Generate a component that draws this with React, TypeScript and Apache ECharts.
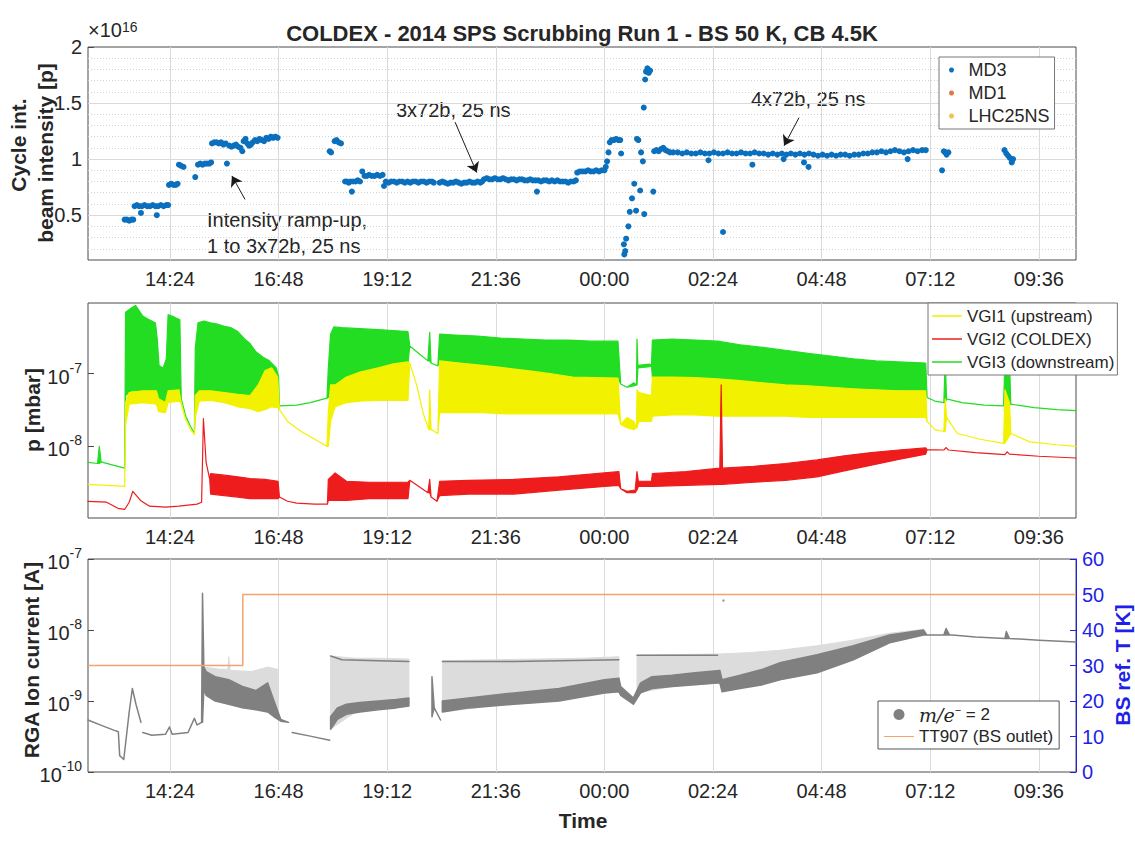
import React, { useEffect, useRef } from "react";
import * as echarts from "echarts";

type P2 = [number, number];
type P3 = [number, number, number];

// ---------- axes ----------
const X_MIN = 12.59; // hours since midnight of day 1 (12:35)
const X_MAX = 34.42; // 10:25 next day
const TIME_TICKS = [14.4, 16.8, 19.2, 21.6, 24, 26.4, 28.8, 31.2, 33.6];
const INTENSITY_TICKS = [0.5, 1, 1.5, 2];
const INTENSITY_MINOR = [0.2, 0.3, 0.4, 0.6, 0.7, 0.8, 0.9, 1.1, 1.2, 1.3, 1.4, 1.6, 1.7, 1.8, 1.9];
const INTENSITY_EXP = 16;
const P_MIN = 1.03e-9;
const P_MAX = 9.4e-7;
const P_DECADES = [-9, -8, -7];
const RGA_MIN = 1e-10;
const RGA_MAX = 1e-7;
const RGA_DECADES = [-10, -9, -8];
const TEMP_TICKS_MAX = 60;

// ---------- panel 1 : cycle integrated intensity (x 1e16 p) ----------
const MD3: P2[] = [
  [13.40, 0.46], [13.45, 0.46], [13.50, 0.45], [13.55, 0.46], [13.59, 0.46],
  [13.62, 0.58], [13.67, 0.59], [13.72, 0.58], [13.76, 0.52], [13.78, 0.58], [13.84, 0.59], [13.90, 0.58],
  [13.96, 0.58], [14.02, 0.59], [14.08, 0.58], [14.11, 0.50], [14.14, 0.58], [14.20, 0.59], [14.26, 0.58],
  [14.32, 0.59], [14.36, 0.59],
  [14.38, 0.77], [14.43, 0.78], [14.48, 0.77], [14.53, 0.77], [14.57, 0.78],
  [14.60, 0.95], [14.65, 0.94], [14.70, 0.93], [14.96, 0.84],
  [15.02, 0.95], [15.07, 0.96], [15.12, 0.95], [15.17, 0.96], [15.22, 0.96], [15.27, 0.96], [15.31, 0.97],
  [15.33, 1.14], [15.38, 1.15], [15.43, 1.15], [15.48, 1.14], [15.53, 1.15], [15.58, 1.13], [15.63, 1.14], [15.66, 0.96],
  [15.71, 1.12], [15.76, 1.11], [15.81, 1.12], [15.86, 1.13], [15.91, 1.11], [15.96, 1.10], [16.00, 1.07],
  [16.03, 1.16], [16.07, 1.18], [16.11, 1.14], [16.15, 1.12], [16.19, 1.13], [16.23, 1.15], [16.28, 1.17],
  [16.33, 1.16], [16.38, 1.18], [16.43, 1.17], [16.48, 1.16], [16.53, 1.19], [16.58, 1.18], [16.63, 1.20],
  [16.68, 1.19], [16.73, 1.20], [16.78, 1.19],
  [17.93, 1.07], [17.96, 1.06], [18.04, 1.16], [18.08, 1.17], [18.13, 1.15], [18.18, 1.14],
  [18.27, 0.80], [18.31, 0.80], [18.35, 0.79], [18.39, 0.80], [18.42, 0.71], [18.45, 0.80], [18.50, 0.80],
  [18.55, 0.81], [18.60, 0.80], [18.65, 0.89], [18.70, 0.85], [18.75, 0.85], [18.80, 0.86], [18.86, 0.85],
  [18.92, 0.85], [18.98, 0.86], [19.04, 0.85], [19.10, 0.86], [19.13, 0.76],
  [19.17, 0.80], [19.23, 0.79], [19.29, 0.80], [19.35, 0.80], [19.41, 0.79], [19.47, 0.80], [19.53, 0.80],
  [19.59, 0.79], [19.65, 0.80], [19.71, 0.79], [19.77, 0.80], [19.83, 0.80], [19.89, 0.79], [19.95, 0.80],
  [20.01, 0.80], [20.07, 0.79], [20.13, 0.80], [20.19, 0.80], [20.23, 0.79],
  [20.36, 0.79], [20.42, 0.80], [20.48, 0.79], [20.54, 0.78], [20.60, 0.79], [20.66, 0.79], [20.72, 0.80],
  [20.78, 0.79], [20.84, 0.78], [20.90, 0.79], [20.96, 0.79], [21.02, 0.80], [21.08, 0.79], [21.14, 0.79],
  [21.20, 0.80], [21.26, 0.79], [21.30, 0.80],
  [21.34, 0.82], [21.40, 0.83], [21.46, 0.82], [21.52, 0.82], [21.58, 0.83], [21.64, 0.82], [21.70, 0.82],
  [21.76, 0.83], [21.82, 0.82], [21.88, 0.81], [21.94, 0.82], [22.00, 0.82], [22.06, 0.81], [22.12, 0.82],
  [22.18, 0.82], [22.24, 0.81], [22.30, 0.81], [22.36, 0.82], [22.42, 0.81], [22.48, 0.81], [22.51, 0.71],
  [22.54, 0.81], [22.60, 0.80], [22.66, 0.81], [22.72, 0.81], [22.78, 0.80], [22.84, 0.81], [22.90, 0.80],
  [22.96, 0.81], [23.02, 0.80], [23.08, 0.80], [23.14, 0.80], [23.20, 0.79], [23.26, 0.80], [23.32, 0.80],
  [23.37, 0.81],
  [23.40, 0.88], [23.46, 0.89], [23.52, 0.89], [23.58, 0.89], [23.64, 0.90], [23.70, 0.89], [23.76, 0.89],
  [23.82, 0.90], [23.88, 0.89], [23.94, 0.90], [24.00, 0.90], [24.03, 0.93],
  [24.06, 0.98], [24.09, 1.06], [24.12, 1.15], [24.16, 1.17], [24.21, 1.17], [24.26, 1.18], [24.31, 1.17],
  [24.35, 1.17], [24.37, 1.05],
  [24.43, 0.24], [24.44, 0.15], [24.46, 0.18], [24.48, 0.29], [24.53, 0.40], [24.56, 0.53], [24.61, 0.65],
  [24.66, 0.78], [24.70, 0.54], [24.72, 1.18], [24.75, 1.17], [24.79, 0.72], [24.81, 1.06], [24.85, 0.98],
  [24.87, 1.46], [24.88, 0.51], [24.90, 1.71], [24.92, 1.78], [24.95, 1.81], [24.98, 1.77], [25.01, 1.79],
  [25.08, 0.71],
  [25.10, 1.07], [25.15, 1.08], [25.20, 1.07], [25.25, 1.09], [25.30, 1.10], [25.35, 1.08], [25.40, 1.07], [25.45, 1.06],
  [25.52, 1.06], [25.62, 1.06], [25.72, 1.05], [25.82, 1.06], [25.92, 1.05], [26.02, 1.05], [26.12, 1.06],
  [26.22, 1.05], [26.30, 0.99], [26.32, 1.05], [26.42, 1.06], [26.52, 1.05], [26.62, 1.05], [26.62, 0.35],
  [26.72, 1.06], [26.82, 1.05], [26.92, 1.05], [27.02, 1.06], [27.12, 1.05], [27.22, 1.05], [27.27, 0.95],
  [27.32, 1.06], [27.42, 1.05], [27.52, 1.05], [27.62, 1.04], [27.72, 1.05], [27.82, 1.04], [27.92, 1.05],
  [27.96, 1.00], [28.02, 1.04], [28.12, 1.05], [28.22, 1.04], [28.32, 1.05], [28.41, 0.97], [28.42, 1.04],
  [28.51, 0.93], [28.52, 1.05], [28.62, 1.04], [28.72, 1.03], [28.82, 1.04], [28.92, 1.03], [29.02, 1.04],
  [29.12, 1.03], [29.22, 1.04], [29.32, 1.04], [29.42, 1.03], [29.52, 1.04], [29.62, 1.04], [29.72, 1.05],
  [29.82, 1.05], [29.92, 1.06], [30.02, 1.06], [30.12, 1.07], [30.22, 1.06], [30.32, 1.07], [30.42, 1.08],
  [30.52, 1.07], [30.62, 1.06], [30.70, 1.00], [30.72, 1.07], [30.82, 1.08], [30.92, 1.07], [31.02, 1.08],
  [31.10, 1.08],
  [31.46, 0.90], [31.50, 1.07], [31.53, 1.06], [31.56, 1.04], [31.60, 1.06],
  [32.84, 1.08], [32.88, 1.05], [32.92, 1.03], [32.96, 1.01], [33.00, 0.97], [33.03, 1.00],
];
const MD1: P2[] = [];
const LHC25NS: P2[] = [];
// arrow annotations: [tStart, vStart, tTip, vTip]
const ARROWS: [number, number, number, number][] = [
  [16.06, 0.64, 15.77, 0.85],
  [20.70, 1.33, 21.18, 0.88],
  [28.30, 1.37, 27.97, 1.12],
];

// ---------- panel 2 : pressures [mbar]  (time, lower envelope, upper envelope) ----------
const VGI1: P3[] = [
  [12.59, 3.0e-9, 3.0e-9], [13.00, 2.9e-9, 2.9e-9], [13.40, 2.8e-9, 2.8e-9], [13.42, 2.0e-8, 4.0e-8],
  [13.50, 3.8e-8, 5.5e-8], [13.80, 4.0e-8, 5.8e-8], [14.10, 3.8e-8, 5.8e-8], [14.15, 3.0e-8, 4.5e-8],
  [14.30, 2.9e-8, 4.0e-8], [14.36, 4.0e-8, 5.8e-8], [14.60, 4.2e-8, 6.0e-8], [14.64, 4.0e-8, 4.2e-8],
  [14.75, 2.3e-8, 2.3e-8], [14.85, 1.75e-8, 1.75e-8], [14.94, 1.45e-8, 1.45e-8], [14.96, 2.5e-8, 5.0e-8],
  [15.05, 4.2e-8, 5.8e-8], [15.30, 4.3e-8, 5.8e-8], [15.60, 4.0e-8, 5.5e-8], [15.90, 3.5e-8, 5.2e-8],
  [16.17, 3.3e-8, 5.0e-8], [16.35, 3.0e-8, 7.0e-8], [16.50, 3.2e-8, 1.1e-7], [16.65, 3.5e-8, 1.2e-7],
  [16.78, 3.4e-8, 9.0e-8], [16.82, 3.2e-8, 3.2e-8], [17.00, 2.2e-8, 2.2e-8], [17.30, 1.6e-8, 1.6e-8],
  [17.60, 1.25e-8, 1.25e-8], [17.87, 1.0e-8, 1.0e-8], [17.90, 1.0e-8, 3.0e-8], [17.95, 2.2e-8, 7.0e-8],
  [18.05, 3.5e-8, 7.0e-8], [18.30, 4.0e-8, 9.0e-8], [18.60, 4.2e-8, 1.05e-7], [19.00, 4.3e-8, 1.2e-7],
  [19.30, 4.3e-8, 1.35e-7], [19.66, 4.3e-8, 1.45e-7], [19.70, 1.4e-7, 1.4e-7], [19.85, 7.0e-8, 7.0e-8],
  [20.00, 2.8e-8, 2.8e-8], [20.12, 1.7e-8, 1.7e-8], [20.14, 1.7e-8, 6.0e-8], [20.17, 1.7e-8, 1.7e-8],
  [20.32, 1.5e-8, 1.5e-8], [20.36, 2.9e-8, 1.5e-7], [20.80, 2.9e-8, 1.4e-7], [21.30, 2.9e-8, 1.3e-7],
  [21.80, 2.8e-8, 1.2e-7], [22.30, 2.8e-8, 1.1e-7], [22.80, 2.8e-8, 1.0e-7], [23.30, 2.8e-8, 9.0e-8],
  [23.80, 2.8e-8, 8.8e-8], [24.30, 2.8e-8, 8.7e-8], [24.36, 2.0e-8, 2.0e-8], [24.50, 1.8e-8, 2.5e-8],
  [24.65, 1.7e-8, 2.2e-8], [24.71, 1.8e-8, 1.8e-8], [24.72, 1.8e-8, 6.0e-8], [24.76, 2.2e-8, 5.5e-8],
  [25.04, 2.2e-8, 5.0e-8], [25.06, 2.6e-8, 9.0e-8], [25.50, 2.7e-8, 9.0e-8], [26.00, 2.7e-8, 8.8e-8],
  [26.50, 2.6e-8, 8.5e-8], [27.00, 2.6e-8, 8.0e-8], [27.50, 2.6e-8, 7.5e-8], [28.00, 2.6e-8, 7.0e-8],
  [28.50, 2.5e-8, 6.8e-8], [29.00, 2.5e-8, 6.5e-8], [29.50, 2.5e-8, 6.2e-8], [30.00, 2.5e-8, 6.0e-8],
  [30.50, 2.5e-8, 5.8e-8], [31.10, 2.5e-8, 5.8e-8], [31.13, 2.2e-8, 2.2e-8], [31.30, 1.7e-8, 1.7e-8],
  [31.50, 1.6e-8, 1.6e-8], [31.53, 1.6e-8, 4.5e-8], [31.56, 2.5e-8, 2.5e-8], [31.80, 1.5e-8, 1.5e-8],
  [32.30, 1.25e-8, 1.25e-8], [32.82, 1.1e-8, 1.1e-8], [32.85, 1.1e-8, 6.0e-8], [32.95, 1.4e-8, 4.0e-8],
  [32.98, 1.5e-8, 1.5e-8], [33.40, 1.15e-8, 1.15e-8], [34.00, 1.05e-8, 1.05e-8], [34.42, 1.0e-8, 1.0e-8],
];
const VGI2: P3[] = [
  [12.59, 1.75e-9, 1.75e-9], [13.00, 1.7e-9, 1.7e-9], [13.25, 1.4e-9, 1.4e-9], [13.40, 1.35e-9, 1.35e-9],
  [13.50, 1.7e-9, 1.7e-9], [13.58, 2.4e-9, 2.4e-9], [13.75, 1.8e-9, 1.8e-9], [13.95, 1.5e-9, 1.5e-9],
  [14.30, 1.45e-9, 1.45e-9], [14.60, 1.5e-9, 1.5e-9], [15.00, 1.6e-9, 1.6e-9], [15.10, 1.7e-9, 1.7e-9],
  [15.14, 2.4e-8, 2.4e-8], [15.20, 6.0e-9, 6.0e-9], [15.28, 3.5e-9, 3.5e-9], [15.30, 2.2e-9, 4.2e-9],
  [15.60, 2.1e-9, 4.0e-9], [15.90, 2.0e-9, 3.8e-9], [16.17, 1.9e-9, 3.6e-9], [16.50, 1.9e-9, 3.5e-9],
  [16.79, 1.9e-9, 3.3e-9], [16.82, 2.0e-9, 2.0e-9], [17.00, 1.75e-9, 1.75e-9], [17.20, 1.65e-9, 1.65e-9],
  [17.60, 1.6e-9, 1.6e-9], [17.88, 1.6e-9, 1.6e-9], [17.90, 1.8e-9, 3.5e-9], [18.05, 1.8e-9, 4.3e-9],
  [18.30, 1.8e-9, 3.3e-9], [18.80, 1.9e-9, 3.2e-9], [19.30, 1.9e-9, 3.2e-9], [19.66, 1.9e-9, 3.2e-9],
  [19.70, 3.4e-9, 3.4e-9], [20.10, 2.3e-9, 2.3e-9], [20.14, 2.3e-9, 3.5e-9], [20.17, 2.0e-9, 2.0e-9],
  [20.30, 1.75e-9, 1.75e-9], [20.36, 2.1e-9, 3.3e-9], [21.00, 2.2e-9, 3.4e-9], [22.00, 2.2e-9, 3.5e-9],
  [23.00, 2.5e-9, 3.8e-9], [24.00, 2.8e-9, 4.3e-9], [24.32, 2.9e-9, 4.5e-9], [24.36, 2.6e-9, 2.6e-9],
  [24.50, 2.3e-9, 2.4e-9], [24.68, 2.3e-9, 2.5e-9], [24.72, 2.5e-9, 4.5e-9], [24.75, 2.8e-9, 3.3e-9],
  [25.04, 2.8e-9, 3.3e-9], [25.06, 2.8e-9, 4.2e-9], [25.80, 2.9e-9, 4.5e-9], [26.55, 3.0e-9, 5.0e-9],
  [26.58, 3.0e-9, 7.0e-8], [26.61, 3.0e-9, 5.0e-9], [27.30, 3.2e-9, 5.3e-9], [28.00, 3.4e-9, 5.8e-9],
  [28.70, 3.8e-9, 6.5e-9], [29.30, 4.6e-9, 7.4e-9], [29.90, 5.5e-9, 8.2e-9], [30.50, 6.6e-9, 8.9e-9],
  [31.10, 7.8e-9, 9.5e-9], [31.13, 9.0e-9, 9.0e-9], [31.50, 8.9e-9, 8.9e-9], [31.55, 9.6e-9, 9.6e-9],
  [31.60, 8.9e-9, 8.9e-9], [32.20, 8.2e-9, 8.2e-9], [32.85, 7.7e-9, 7.7e-9], [32.90, 8.4e-9, 8.4e-9],
  [32.95, 7.8e-9, 7.8e-9], [33.60, 7.3e-9, 7.3e-9], [34.42, 6.9e-9, 6.9e-9],
];
const VGI3: P3[] = [
  [12.59, 6.0e-9, 6.0e-9], [12.80, 5.8e-9, 5.8e-9], [12.84, 5.8e-9, 1.0e-8], [12.88, 6.1e-9, 6.1e-9],
  [13.10, 5.6e-9, 5.6e-9], [13.40, 5.0e-9, 5.0e-9], [13.42, 5.0e-8, 7.0e-7], [13.55, 5.8e-8, 8.0e-7],
  [13.64, 5.8e-8, 8.7e-7], [13.80, 5.5e-8, 6.2e-7], [13.95, 5.5e-8, 5.5e-7], [14.08, 5.5e-8, 5.0e-7],
  [14.12, 5.0e-8, 3.0e-7], [14.16, 4.0e-8, 1.3e-7], [14.25, 3.5e-8, 1.2e-7], [14.32, 3.5e-8, 1.6e-7],
  [14.36, 5.0e-8, 6.5e-7], [14.50, 5.5e-8, 6.0e-7], [14.62, 5.5e-8, 5.5e-7], [14.65, 4.5e-8, 4.5e-8],
  [14.75, 2.6e-8, 2.6e-8], [14.85, 1.9e-8, 1.9e-8], [14.94, 1.5e-8, 1.5e-8], [14.96, 3.0e-8, 2.2e-7],
  [15.02, 5.5e-8, 5.0e-7], [15.15, 5.8e-8, 5.3e-7], [15.30, 5.5e-8, 5.0e-7], [15.45, 5.5e-8, 4.8e-7],
  [15.60, 5.2e-8, 4.5e-7], [15.75, 5.0e-8, 4.3e-7], [15.90, 5.0e-8, 3.8e-7], [16.05, 4.8e-8, 3.0e-7],
  [16.17, 4.5e-8, 2.6e-7], [16.30, 4.0e-8, 2.0e-7], [16.45, 6.0e-8, 1.7e-7], [16.60, 7.0e-8, 1.5e-7],
  [16.75, 6.0e-8, 1.2e-7], [16.80, 4.0e-8, 9.0e-8], [16.82, 3.6e-8, 3.6e-8], [17.20, 3.7e-8, 3.7e-8],
  [17.50, 4.0e-8, 4.0e-8], [17.87, 4.6e-8, 4.6e-8], [17.90, 4.7e-8, 1.2e-7], [17.95, 6.0e-8, 3.5e-7],
  [18.02, 7.0e-8, 4.4e-7], [18.20, 8.0e-8, 4.3e-7], [18.50, 9.0e-8, 4.2e-7], [18.80, 1.1e-7, 4.1e-7],
  [19.10, 1.2e-7, 4.0e-7], [19.40, 1.3e-7, 3.9e-7], [19.66, 1.4e-7, 3.8e-7], [19.70, 2.4e-7, 2.4e-7],
  [19.90, 1.9e-7, 1.9e-7], [20.10, 1.5e-7, 1.5e-7], [20.14, 1.5e-7, 3.7e-7], [20.17, 1.4e-7, 1.4e-7],
  [20.32, 1.28e-7, 1.28e-7], [20.36, 1.5e-7, 3.5e-7], [20.70, 1.45e-7, 3.4e-7], [21.20, 1.35e-7, 3.3e-7],
  [21.70, 1.25e-7, 3.1e-7], [22.20, 1.1e-7, 3.0e-7], [22.70, 1.0e-7, 2.9e-7], [23.20, 9.0e-8, 2.9e-7],
  [23.70, 8.8e-8, 2.8e-7], [24.30, 8.7e-8, 2.8e-7], [24.36, 7.2e-8, 7.2e-8], [24.50, 6.5e-8, 6.5e-8],
  [24.65, 6.8e-8, 7.5e-8], [24.71, 7.0e-8, 7.0e-8], [24.72, 7.0e-8, 3.0e-7], [24.74, 1.2e-7, 1.3e-7],
  [25.00, 1.25e-7, 1.35e-7], [25.04, 1.3e-7, 1.3e-7], [25.06, 9.0e-8, 2.9e-7], [25.50, 9.0e-8, 3.0e-7],
  [26.00, 8.8e-8, 2.9e-7], [26.50, 8.5e-8, 2.8e-7], [27.00, 8.0e-8, 2.5e-7], [27.50, 7.5e-8, 2.3e-7],
  [28.00, 7.0e-8, 2.1e-7], [28.50, 6.8e-8, 1.9e-7], [29.00, 6.5e-8, 1.75e-7], [29.50, 6.2e-8, 1.6e-7],
  [30.00, 6.0e-8, 1.5e-7], [30.50, 5.8e-8, 1.45e-7], [31.10, 5.8e-8, 1.4e-7], [31.13, 4.7e-8, 4.7e-8],
  [31.30, 4.2e-8, 4.2e-8], [31.50, 4.0e-8, 4.0e-8], [31.53, 4.0e-8, 1.6e-7], [31.56, 4.5e-8, 4.5e-8],
  [31.90, 4.0e-8, 4.0e-8], [32.40, 3.7e-8, 3.7e-8], [32.82, 3.6e-8, 3.6e-8], [32.85, 3.6e-8, 1.6e-7],
  [32.95, 3.8e-8, 1.5e-7], [32.98, 3.8e-8, 3.8e-8], [33.50, 3.4e-8, 3.4e-8], [34.00, 3.2e-8, 3.2e-8],
  [34.42, 3.1e-8, 3.1e-8],
];

// ---------- panel 3 : RGA m/e=2 ion current [A] ----------
// dense part of the point cloud (time, low, high), one list per uninterrupted stretch
const RGA_DENSE: P3[][] = [
  [[12.59, 5.4e-10, 5.4e-10], [12.90, 4.5e-10, 4.5e-10], [13.20, 3.8e-10, 3.8e-10], [13.26, 3.7e-10, 3.7e-10],
   [13.29, 1.7e-10, 1.7e-10], [13.38, 1.5e-10, 1.5e-10], [13.42, 2.5e-10, 2.5e-10], [13.50, 7.0e-10, 7.0e-10],
   [13.57, 1.5e-9, 1.5e-9], [13.65, 9.0e-10, 9.0e-10], [13.76, 5.0e-10, 5.0e-10]],
  [[13.80, 3.6e-10, 3.6e-10], [14.00, 3.3e-10, 3.3e-10], [14.30, 3.4e-10, 3.4e-10], [14.39, 4.3e-10, 4.3e-10],
   [14.45, 3.4e-10, 3.4e-10], [14.80, 3.6e-10, 3.6e-10], [14.94, 5.7e-10, 5.7e-10], [15.00, 4.6e-10, 4.6e-10],
   [15.10, 5.0e-10, 5.0e-10], [15.12, 5.0e-10, 3.3e-8], [15.15, 1.5e-9, 3.0e-9], [15.20, 1.2e-9, 2.6e-9],
   [15.40, 1.0e-9, 2.2e-9], [15.70, 9.0e-10, 2.0e-9], [16.00, 8.0e-10, 1.6e-9], [16.30, 7.5e-10, 1.4e-9],
   [16.56, 7.0e-10, 1.8e-9], [16.70, 6.0e-10, 1.0e-9], [16.85, 5.2e-10, 5.5e-10], [17.02, 5.0e-10, 5.0e-10]],
  [[17.10, 3.6e-10, 3.6e-10], [17.50, 3.2e-10, 3.2e-10], [17.93, 2.8e-10, 2.8e-10]],
  [[17.95, 4.0e-10, 6.0e-10], [18.10, 5.5e-10, 8.0e-10], [18.30, 6.5e-10, 9.0e-10], [18.60, 7.0e-10, 9.5e-10],
   [19.00, 7.5e-10, 1.0e-9], [19.40, 8.0e-10, 1.05e-9], [19.68, 8.5e-10, 1.1e-9]],
  [[20.19, 6.0e-10, 2.2e-9], [20.24, 8.0e-10, 8.0e-10], [20.38, 5.4e-10, 5.4e-10]],
  [[20.42, 7.0e-10, 1.0e-9], [21.00, 8.0e-10, 1.1e-9], [22.00, 9.0e-10, 1.3e-9], [23.00, 1.0e-9, 1.5e-9],
   [24.00, 1.3e-9, 2.0e-9], [24.32, 1.35e-9, 2.1e-9], [24.36, 1.2e-9, 1.6e-9], [24.64, 9.0e-10, 1.1e-9],
   [24.80, 1.3e-9, 1.8e-9], [25.05, 1.5e-9, 2.2e-9], [25.50, 1.6e-9, 2.3e-9], [26.00, 1.7e-9, 2.5e-9],
   [26.55, 1.8e-9, 2.7e-9], [26.60, 1.35e-9, 2.0e-9], [27.00, 1.5e-9, 2.3e-9], [27.50, 1.7e-9, 2.8e-9],
   [27.90, 2.0e-9, 3.5e-9], [28.70, 2.5e-9, 4.5e-9], [29.50, 3.8e-9, 6.0e-9], [30.30, 6.6e-9, 8.5e-9],
   [31.05, 8.5e-9, 1.0e-8], [31.12, 8.6e-9, 8.6e-9], [31.50, 8.5e-9, 8.5e-9], [31.55, 8.5e-9, 1.05e-8],
   [31.62, 8.6e-9, 8.6e-9], [32.20, 8.0e-9, 8.0e-9], [32.85, 7.6e-9, 7.6e-9], [32.88, 7.6e-9, 9.5e-9],
   [32.95, 7.6e-9, 7.6e-9], [33.60, 7.2e-9, 7.2e-9], [34.42, 6.8e-9, 6.8e-9]],
  [[17.95, 4.3e-9, 4.3e-9], [18.20, 3.8e-9, 3.8e-9], [19.00, 3.7e-9, 3.7e-9], [19.68, 3.6e-9, 3.6e-9]],
  [[20.42, 3.6e-9, 3.6e-9], [22.00, 3.6e-9, 3.6e-9], [24.32, 3.8e-9, 3.8e-9]],
  [[24.72, 4.4e-9, 4.4e-9], [26.50, 4.4e-9, 4.4e-9]],
];
// sparse part of the point cloud (time, low, high)
const RGA_SPARSE: P3[][] = [
  [[15.15, 1.5e-9, 3.0e-9], [15.50, 1.0e-9, 2.8e-9], [15.68, 9.0e-10, 2.8e-9], [15.70, 9.0e-10, 4.2e-9],
   [15.73, 9.0e-10, 2.7e-9], [16.20, 8.0e-10, 2.6e-9], [16.56, 7.0e-10, 3.0e-9], [16.78, 6.0e-10, 2.8e-9]],
  [[17.95, 4.0e-10, 4.3e-9], [18.50, 7.0e-10, 4.0e-9], [19.00, 7.5e-10, 4.0e-9], [19.68, 8.5e-10, 3.9e-9]],
  [[20.42, 7.0e-10, 3.7e-9], [21.50, 8.5e-10, 3.8e-9], [22.50, 9.5e-10, 3.9e-9], [23.50, 1.2e-9, 4.0e-9],
   [24.32, 1.35e-9, 4.2e-9]],
  [[24.72, 1.3e-9, 4.4e-9], [25.50, 1.6e-9, 4.5e-9], [26.55, 1.8e-9, 4.6e-9], [27.20, 1.6e-9, 4.8e-9],
   [27.90, 2.0e-9, 5.2e-9], [28.70, 2.5e-9, 6.0e-9], [29.50, 3.8e-9, 7.2e-9], [30.30, 6.6e-9, 9.0e-9],
   [31.05, 8.5e-9, 1.02e-8]],
];
const RGA_DOTS: P2[] = [[26.63, 2.6e-8]];
const TT907_TIME = [12.59, 16.01, 34.42];
const TT907_TEMP = [30, 50, 50];

// ---------- styling ----------
const FONT = "'Liberation Sans', Arial, Helvetica, sans-serif";
const TXT = "#262626";
const AXC = "#4a4a4a";
const BLUE = "#1f1fe8";
const MAJOR = { color: "#dadada", width: 1, type: "solid" };
const MINOR = { color: "#d2d2d2", width: 1, type: [1, 2] };
const RGA_NAME = "m/e- = 2";

function fmtTime(v: number): string {
  const h = ((v % 24) + 24) % 24;
  let hh = Math.floor(h + 1e-6);
  let mm = Math.round((h - hh) * 60);
  if (mm === 60) { hh = (hh + 1) % 24; mm = 0; }
  return String(hh).padStart(2, "0") + ":" + String(mm).padStart(2, "0");
}
function fmtPow(v: number): string {
  return "{b|10}{s|" + Math.round(Math.log10(v)) + "}";
}
const POW_RICH = {
  b: { fontSize: 20, fontFamily: FONT, color: TXT, lineHeight: 26, verticalAlign: "bottom" },
  s: { fontSize: 14, fontFamily: FONT, color: TXT, lineHeight: 14, verticalAlign: "top" },
};
function minorLog(decades: number[], lo: number, hi: number): number[] {
  const out: number[] = [];
  decades.forEach((e) => [2, 3, 4, 5, 6, 7, 8, 9].forEach((k) => {
    const v = k * Math.pow(10, e);
    if (v > lo && v < hi) out.push(v);
  }));
  return out;
}

function band(name: string, segments: P3[][], color: string, xIdx: number, yIdx: number, z: number, lw = 1.2) {
  const data: number[][] = [];
  segments.forEach((seg, si) => seg.forEach((p) => data.push([p[0], p[1], p[2], si])));
  return {
    type: "custom", name, xAxisIndex: xIdx, yAxisIndex: yIdx, z, silent: true,
    itemStyle: { color }, data, encode: { x: 0, y: [1, 2] },
    renderItem: (params: any, api: any) => {
      const i = params.dataIndex;
      const si = data[i][3];
      if (i > 0 && data[i - 1][3] === si) return null;
      const seg = segments[si];
      const up = seg.map((p) => api.coord([p[0], p[2]]));
      const lo = seg.map((p) => api.coord([p[0], p[1]])).reverse();
      return {
        type: "polygon", shape: { points: up.concat(lo) },
        style: { fill: color, stroke: color, lineWidth: lw, lineJoin: "round" },
      };
    },
  };
}

function gridLines(xIdx: number, yIdx: number, xs: number[], ys: number[], style: any) {
  return {
    type: "line", xAxisIndex: xIdx, yAxisIndex: yIdx, data: [], silent: true, z: 1,
    markLine: {
      silent: true, symbol: ["none", "none"], label: { show: false }, lineStyle: style, z: 1,
      animation: false, emphasis: { disabled: true },
      data: [...xs.map((v) => ({ xAxis: v })), ...ys.map((v) => ({ yAxis: v }))],
    },
  };
}

function xAxis(gridIndex: number) {
  return {
    gridIndex, type: "value", min: X_MIN, max: X_MAX,
    axisLine: { show: false }, splitLine: { show: false },
    axisTick: { inside: true, length: 6, lineStyle: { color: AXC }, customValues: TIME_TICKS },
    axisLabel: { customValues: TIME_TICKS, formatter: fmtTime, color: TXT, fontSize: 20, fontFamily: FONT, margin: 9 },
  };
}

function text(x: number, y: number, t: string, extra: any = {}, rot = 0) {
  return {
    type: "text", x, y, rotation: rot, silent: true,
    style: { text: t, fill: TXT, font: "20px " + FONT, align: "left", verticalAlign: "middle", ...extra },
  };
}

export default function App() {
  const ref = useRef<HTMLDivElement>(null);
  useEffect(() => {
    if (!ref.current) return;
    const chart = echarts.init(ref.current, undefined, { renderer: "svg" });
    const gridBox = { show: true, borderColor: AXC, borderWidth: 1, backgroundColor: "#ffffff" };
    const option: any = {
      animation: false,
      backgroundColor: "#ffffff",
      textStyle: { fontFamily: FONT },
      grid: [
        { left: 88, top: 47, width: 988, height: 213, ...gridBox },
        { left: 88, top: 303, width: 988, height: 215, ...gridBox },
        { left: 88, top: 559, width: 988, height: 213, ...gridBox },
      ],
      xAxis: [xAxis(0), xAxis(1), xAxis(2)],
      yAxis: [
        {
          gridIndex: 0, type: "value", min: 0.1, max: 2,
          axisLine: { show: false }, splitLine: { show: false },
          axisTick: { inside: true, length: 6, lineStyle: { color: AXC }, customValues: INTENSITY_TICKS },
          axisLabel: { customValues: INTENSITY_TICKS, color: TXT, fontSize: 20, fontFamily: FONT, margin: 6, formatter: (v: number) => String(v) },
        },
        {
          gridIndex: 1, type: "log", logBase: 10, min: P_MIN, max: P_MAX,
          axisLine: { show: false }, splitLine: { show: false },
          axisTick: { inside: true, length: 6, lineStyle: { color: AXC } },
          axisLabel: { formatter: fmtPow, rich: POW_RICH, margin: 6, showMinLabel: false, showMaxLabel: false },
        },
        {
          gridIndex: 2, type: "log", logBase: 10, min: RGA_MIN, max: RGA_MAX,
          axisLine: { show: false }, splitLine: { show: false },
          axisTick: { inside: true, length: 6, lineStyle: { color: AXC } },
          axisLabel: { formatter: fmtPow, rich: POW_RICH, margin: 6 },
        },
        {
          gridIndex: 2, type: "value", position: "right", min: 0, max: TEMP_TICKS_MAX, interval: 10,
          axisLine: { show: true, lineStyle: { color: BLUE, width: 1 } }, splitLine: { show: false },
          axisTick: { show: true, inside: true, length: 6, lineStyle: { color: BLUE } },
          axisLabel: { color: BLUE, fontSize: 20, fontFamily: FONT, margin: 6 },
        },
      ],
      legend: [
        {
          orient: "vertical", left: 939, top: 57, selectedMode: false,
          data: [{ name: "MD3", icon: "circle" }, { name: "MD1", icon: "circle" }, { name: "LHC25NS", icon: "circle" }],
          itemWidth: 24, itemHeight: 5, itemGap: 3,
          textStyle: { fontSize: 18, lineHeight: 20, color: TXT, fontFamily: FONT },
          backgroundColor: "#fff", borderColor: "#777", borderWidth: 1, padding: [3, 5, 3, 10],
        },
        {
          orient: "vertical", left: 928, top: 303, selectedMode: false,
          data: [
            { name: "VGI1 (upstream)", icon: "rect", itemStyle: { color: "#f2f200" } },
            { name: "VGI2 (COLDEX)", icon: "rect", itemStyle: { color: "#ee1c1c" } },
            { name: "VGI3 (downstream)", icon: "rect", itemStyle: { color: "#22dd22" } },
          ],
          itemWidth: 30, itemHeight: 1.5, itemGap: 3,
          textStyle: { fontSize: 17, lineHeight: 20, color: TXT, fontFamily: FONT },
          backgroundColor: "#fff", borderColor: "#777", borderWidth: 1, padding: [3, 3, 3, 4],
        },
        {
          orient: "vertical", left: 878, top: 701, selectedMode: false,
          data: [
            { name: RGA_NAME, icon: "circle", itemStyle: { color: "#808080" } },
            { name: "TT907 (BS outlet)", icon: "path://M0,0H30V1H0Z", itemStyle: { color: "#f3a46c" } },
          ],
          itemWidth: 30, itemHeight: 11, itemGap: 1,
          formatter: (n: string) => (n === RGA_NAME ? "{i|m/e}{s|\u2212} = 2" : n),
          textStyle: {
            fontSize: 17, lineHeight: 21, color: TXT, fontFamily: FONT,
            rich: {
              i: { fontSize: 19, fontStyle: "italic", fontFamily: "'DejaVu Serif', serif", color: TXT, lineHeight: 21 },
              s: { fontSize: 11, fontFamily: FONT, color: TXT, lineHeight: 11, verticalAlign: "top" },
            },
          },
          backgroundColor: "#fff", borderColor: "#555", borderWidth: 1, padding: [3, 6, 2, 6],
        },
      ],
      series: [
        // grid lines
        gridLines(0, 0, TIME_TICKS, [0.5, 1, 1.5], MAJOR),
        gridLines(0, 0, [], INTENSITY_MINOR, MINOR),
        gridLines(1, 1, TIME_TICKS, P_DECADES.map((e) => Math.pow(10, e)).filter((v) => v > P_MIN && v < P_MAX), MAJOR),
        gridLines(1, 1, [], minorLog(P_DECADES, P_MIN, P_MAX), MINOR),
        gridLines(2, 2, TIME_TICKS, [1e-9, 1e-8], MAJOR),
        gridLines(2, 2, [], minorLog(RGA_DECADES, RGA_MIN, RGA_MAX), MINOR),
        // panel 1
        {
          type: "scatter", name: "MD3", xAxisIndex: 0, yAxisIndex: 0, z: 3, data: MD3,
          symbolSize: 6, itemStyle: { color: "#0a6fbd", opacity: 1 }, silent: true,
          markLine: {
            silent: true, symbol: ["none", "arrow"], symbolSize: 10, label: { show: false },
            lineStyle: { color: "#1a1a1a", width: 1, type: "solid" }, animation: false,
            data: ARROWS.map((a) => [{ coord: [a[0], a[1]] }, { coord: [a[2], a[3]] }]),
          },
        },
        { type: "scatter", name: "MD1", xAxisIndex: 0, yAxisIndex: 0, data: MD1, symbolSize: 5, itemStyle: { color: "#d95319" } },
        { type: "scatter", name: "LHC25NS", xAxisIndex: 0, yAxisIndex: 0, data: LHC25NS, symbolSize: 5, itemStyle: { color: "#edb120" } },
        // panel 2
        band("VGI3 (downstream)", [VGI3], "#22dd22", 1, 1, 3),
        band("VGI1 (upstream)", [VGI1], "#f2f200", 1, 1, 4),
        band("VGI2 (COLDEX)", [VGI2], "#ee1c1c", 1, 1, 5),
        // panel 3
        band("rga-sparse", RGA_SPARSE, "#dcdcdc", 2, 2, 3, 1),
        band(RGA_NAME, RGA_DENSE, "#808080", 2, 2, 4, 1.5),
        { type: "scatter", name: "rga-dots", xAxisIndex: 2, yAxisIndex: 2, data: RGA_DOTS, symbolSize: 2.5, itemStyle: { color: "#808080" }, z: 4 },
        {
          type: "line", name: "TT907 (BS outlet)", xAxisIndex: 2, yAxisIndex: 3, step: "end", z: 5,
          data: TT907_TIME.map((t, i) => [t, TT907_TEMP[i]]), symbol: "none",
          lineStyle: { color: "#f3a46c", width: 1.5 }, itemStyle: { color: "#f3a46c" },
        },
      ],
      graphic: [
        text(582, 33, "COLDEX - 2014 SPS Scrubbing Run 1 - BS 50 K, CB 4.5K", { font: "bold 22px " + FONT, align: "center" }),
        {
          type: "text", x: 88, y: 30, silent: true,
          style: {
            text: "\u00d710{s|" + INTENSITY_EXP + "}", fill: TXT, font: "20px " + FONT, verticalAlign: "middle",
            rich: { s: { fontSize: 14, fontFamily: FONT, fill: TXT, lineHeight: 14, verticalAlign: "top" } },
          },
        },
        text(18, 145, "Cycle int.", { font: "bold 21px " + FONT, align: "center" }, Math.PI / 2),
        text(45, 153, "beam intensity [p]", { font: "bold 21px " + FONT, align: "center" }, Math.PI / 2),
        text(32, 410, "p [mbar]", { font: "bold 21px " + FONT, align: "center" }, Math.PI / 2),
        text(31, 660, "RGA Ion current [A]", { font: "bold 21px " + FONT, align: "center" }, Math.PI / 2),
        text(1122, 665, "BS ref. T [K]", { font: "bold 21px " + FONT, align: "center", fill: BLUE }, Math.PI / 2),
        text(583, 820, "Time", { font: "bold 21px " + FONT, align: "center" }),
        text(207, 220, "Intensity ramp-up,", {}),
        text(207, 246, "1 to 3x72b, 25 ns", {}),
        text(396, 110, "3x72b, 25 ns", {}),
        text(751, 99, "4x72b, 25 ns", {}),
      ],
    };
    chart.setOption(option);
    return () => chart.dispose();
  }, []);
  return <div ref={ref} style={{ position: "fixed", left: 0, top: 0, width: 1135, height: 852, background: "#fff" }} />;
}
